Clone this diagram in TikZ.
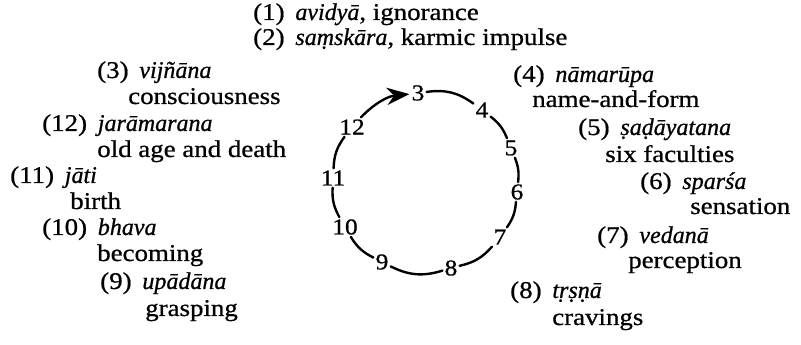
\documentclass[tikz,border=0pt]{standalone}
\usepackage{fontspec}
\setmainfont{Liberation Serif}[UprightFeatures={FakeStretch=1.12,FakeBold=0.8},ItalicFeatures={FakeStretch=1.0,FakeBold=0.8}]
\usetikzlibrary{arrows.meta}
\begin{document}
\begin{tikzpicture}[x=0.75pt,y=-0.75pt,
  lbl/.style={anchor=base west,inner sep=0pt,font=\fontsize{18}{20}\selectfont},
  num/.style={inner sep=1.5pt,font=\fontsize{17}{19}\selectfont},
  link/.style={line width=1.8pt,line cap=round}]
\useasboundingbox (0,0) rectangle (801,345);
% top lines
\node[lbl] (t1) at (253,20) {(1)\hspace{0.45em}\textit{avidyā}, ignorance};
\node[lbl] (t2) at (253,45) {(2)\hspace{0.45em}\textit{saṃskāra}, karmic impulse};
% left column
\node[lbl] (t3) at (97,78) {(3)\hspace{0.45em}\textit{vijñāna}};
\node[lbl] (t3b) at (128,104) {consciousness};
\node[lbl] (t12) at (42,131) {(12)\hspace{0.45em}\textit{jarāmarana}};
\node[lbl] (t12b) at (97,157) {old age and death};
\node[lbl] (t11) at (10,183) {(11)\hspace{0.45em}\textit{jāti}};
\node[lbl] (t11b) at (70,209) {birth};
\node[lbl] (t10) at (42,235) {(10)\hspace{0.45em}\textit{bhava}};
\node[lbl] (t10b) at (97,261) {becoming};
\node[lbl] (t9) at (100,289) {(9)\hspace{0.45em}\textit{upādāna}};
\node[lbl] (t9b) at (145,316) {grasping};
% right column
\node[lbl] (t4) at (513,82) {(4)\hspace{0.45em}\textit{nāmarūpa}};
\node[lbl] (t4b) at (532,107) {name-and-form};
\node[lbl] (t5) at (578,135) {(5)\hspace{0.45em}\textit{ṣaḍāyatana}};
\node[lbl] (t5b) at (605,162) {six faculties};
\node[lbl] (t6) at (640,189) {(6)\hspace{0.45em}\textit{sparśa}};
\node[lbl] (t6b) at (690,214) {sensation};
\node[lbl] (t7) at (597,243) {(7)\hspace{0.45em}\textit{vedanā}};
\node[lbl] (t7b) at (628,268) {perception};
\node[lbl] (t8) at (510,298) {(8)\hspace{0.45em}\textit{tṛṣṇā}};
\node[lbl] (t8b) at (552,325) {cravings};
% circle numbers
\node[num] (c3) at (418,93) {3};
\node[num] (c4) at (482,110) {4};
\node[num] (c5) at (511,148) {5};
\node[num] (c6) at (517,192) {6};
\node[num] (c7) at (500,237) {7};
\node[num] (c8) at (451,268) {8};
\node[num] (c9) at (382,262) {9};
\node[num] (c10) at (345,227) {10};
\node[num] (c11) at (333,178) {11};
\node[num] (c12) at (352,127) {12};
% arcs
\draw[link] (c3) to[bend left=22] (c4);
\draw[link] (c4) to[bend left=15] (c5);
\draw[link] (c5) to[bend left=14] (c6);
\draw[link] (c6) to[bend left=15] (c7);
\draw[link] (c7) to[bend left=18] (c8);
\draw[link] (c8) to[bend left=22] (c9);
\draw[link] (c9) to[bend left=16] (c10);
\draw[link] (c10) to[bend left=16] (c11);
\draw[link] (c11) to[bend left=17] (c12);
\draw[link,-{Stealth[length=17pt,width=13pt]}] (c12) to[bend left=20] (c3);
\end{tikzpicture}
\end{document}
